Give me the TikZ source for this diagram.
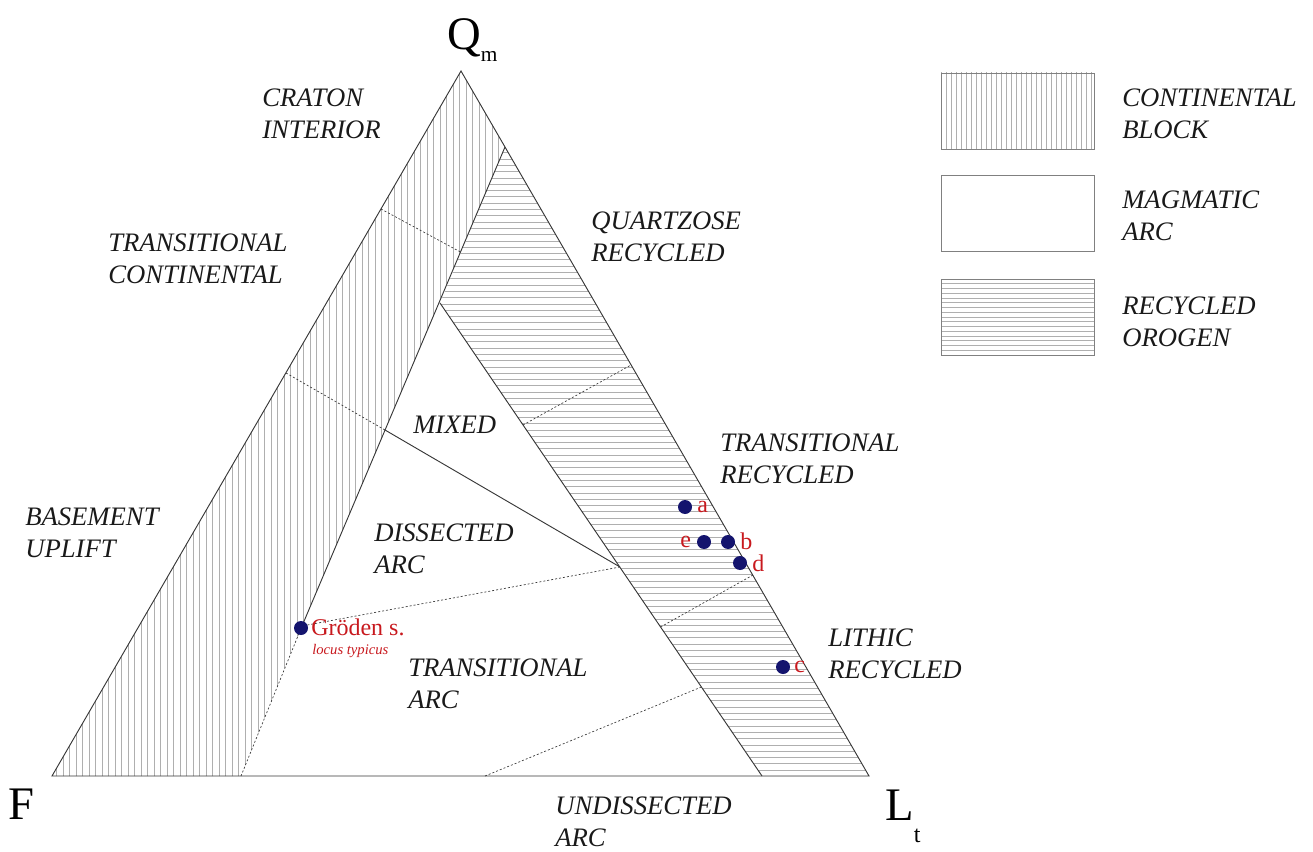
\documentclass[tikz,border=0pt]{standalone}
\usepackage{fontspec}
\setmainfont{Liberation Serif}
\usetikzlibrary{calc}
\definecolor{ptred}{RGB}{200,25,30}
\definecolor{ptblue}{RGB}{20,20,110}
\definecolor{hatchgray}{RGB}{175,175,175}
\definecolor{edgegray}{RGB}{55,55,55}
\tikzset{
  region/.style={font=\fontsize{20}{24}\selectfont\itshape, align=left, anchor=west, inner sep=0pt, text=black!90},
  corner/.style={font=\fontsize{35}{35}\selectfont, anchor=base west, inner sep=0pt},
  bound/.style={draw=edgegray, line width=0.7pt},
  dashb/.style={draw=edgegray, line width=0.5pt, dash pattern=on 1.5pt off 1.5pt},
  hatchline/.style={draw=hatchgray, line width=0.4pt},
  sample/.style={circle, fill=ptblue, minimum size=10.5pt, inner sep=0pt},
  samplelbl/.style={text=ptred, font=\fontsize{18}{18}\selectfont, anchor=west, inner sep=0pt},
  legendbox/.style={draw=gray, line width=0.8pt, minimum width=114.75pt, minimum height=57pt, inner sep=0pt, anchor=north west}
}
\begin{document}
\begin{tikzpicture}[x=0.75pt,y=-0.75pt]
\useasboundingbox (0,0) rectangle (1313,852);
% corners
\coordinate (Q) at (461,71);
\coordinate (F) at (52,776);
\coordinate (L) at (869,776);
% continental block boundary
\coordinate (cbT) at (505,147);
\coordinate (G) at (302,626);
\coordinate (cbB) at (241,776);
% recycled orogen inner boundary
\coordinate (J1) at (440,303);
\coordinate (roB) at (762,776);
% sub-boundaries
\coordinate (le1) at (381,209);
\coordinate (cb1) at (460.5,252);
\coordinate (le2) at (286,373);
\coordinate (cb2) at (385,430);
\coordinate (md) at (620,567);
\coordinate (qe1) at (631,365);
\coordinate (ro1) at (523,425);
\coordinate (qe2) at (753,575);
\coordinate (ro2) at (660.6,627);
\coordinate (ua1) at (485,776);
\coordinate (ua2) at (701.4,687);

% hatching
\begin{scope}
\clip (Q) -- (cbT) -- (G) -- (cbB) -- (F) -- cycle;
\foreach \x in {50,56.5,...,512} \draw[hatchline] (\x,60) -- (\x,780);
\end{scope}
\begin{scope}
\clip (cbT) -- (L) -- (roB) -- (J1) -- cycle;
\foreach \y in {140,146.3,...,780} \draw[hatchline] (430,\y) -- (875,\y);
\end{scope}

% boundaries
\draw[bound] (Q) -- (F) -- (L) -- cycle;
\draw[bound] (cbT) -- (G);
\draw[dashb] (G) -- (cbB);
\draw[bound] (J1) -- (roB);
\draw[bound] (cb2) -- (md);
\draw[dashb] (le1) -- (cb1);
\draw[dashb] (le2) -- (cb2);
\draw[dashb] (md) -- (G);
\draw[dashb] (ua1) -- (ua2);
\draw[dashb] (ro1) -- (qe1);
\draw[dashb] (ro2) -- (qe2);

% corner labels
\node[corner] (Qm) at (447,50) {Q\raisebox{-9pt}{\fontsize{16}{16}\selectfont m}};
\node[corner] (Ft) at (8,819) {F};
\node[corner] (Lt) at (885,820) {L\raisebox{-17pt}{\fontsize{18}{18}\selectfont t}};

% region labels
\node[region] (craton) at (262,113.5) {CRATON\\INTERIOR};
\node[region] (transcont) at (108,259) {TRANSITIONAL\\CONTINENTAL};
\node[region] (quartz) at (591,236.5) {QUARTZOSE\\RECYCLED};
\node[region] (basement) at (25,533) {BASEMENT\\UPLIFT};
\node[region] (mixed) at (413,425) {MIXED};
\node[region] (dissected) at (374,548.5) {DISSECTED\\ARC};
\node[region] (transarc) at (408,684) {TRANSITIONAL\\ARC};
\node[region] (undissected) at (555,822) {UNDISSECTED\\ARC};
\node[region] (transrec) at (720,458.5) {TRANSITIONAL\\RECYCLED};
\node[region] (lithic) at (828,654) {LITHIC\\RECYCLED};

% samples
\node[sample] (pa) at (685,507) {};
\node[samplelbl] (la) at (697,507) {a};
\node[sample] (pe) at (704,542) {};
\node[samplelbl] (le) at (680,542) {e};
\node[sample] (pb) at (728,542) {};
\node[samplelbl] (lb) at (740,541.5) {b};
\node[sample] (pd) at (740,563) {};
\node[samplelbl] (ld) at (752,563) {d};
\node[sample] (pc) at (783,667) {};
\node[samplelbl] (lc) at (794,667) {c};
\node[sample] (pg) at (301,628) {};
\node[samplelbl, anchor=base west] (lg) at (311,635) {Gröden s.};
\node[text=ptred, font=\fontsize{11}{11}\selectfont\itshape, anchor=base west, inner sep=0pt] (lg2) at (312,654) {locus typicus};

% legend
\begin{scope}
\clip (941,73) rectangle (1094,149);
\foreach \x in {941,946,...,1096} \draw[hatchline] (\x,70) -- (\x,152);
\end{scope}
\begin{scope}
\clip (941,279) rectangle (1094,355);
\foreach \y in {279,283.75,...,357} \draw[hatchline] (938,\y) -- (1097,\y);
\end{scope}
\node[legendbox] (lb1) at (941,73) {};
\node[legendbox] (lb2) at (941,175) {};
\node[legendbox] (lb3) at (941,279) {};
\node[region] (lt1) at (1122,114) {CONTINENTAL\\BLOCK};
\node[region] (lt2) at (1122,216) {MAGMATIC\\ARC};
\node[region] (lt3) at (1122,322) {RECYCLED\\OROGEN};
\end{tikzpicture}
\end{document}
